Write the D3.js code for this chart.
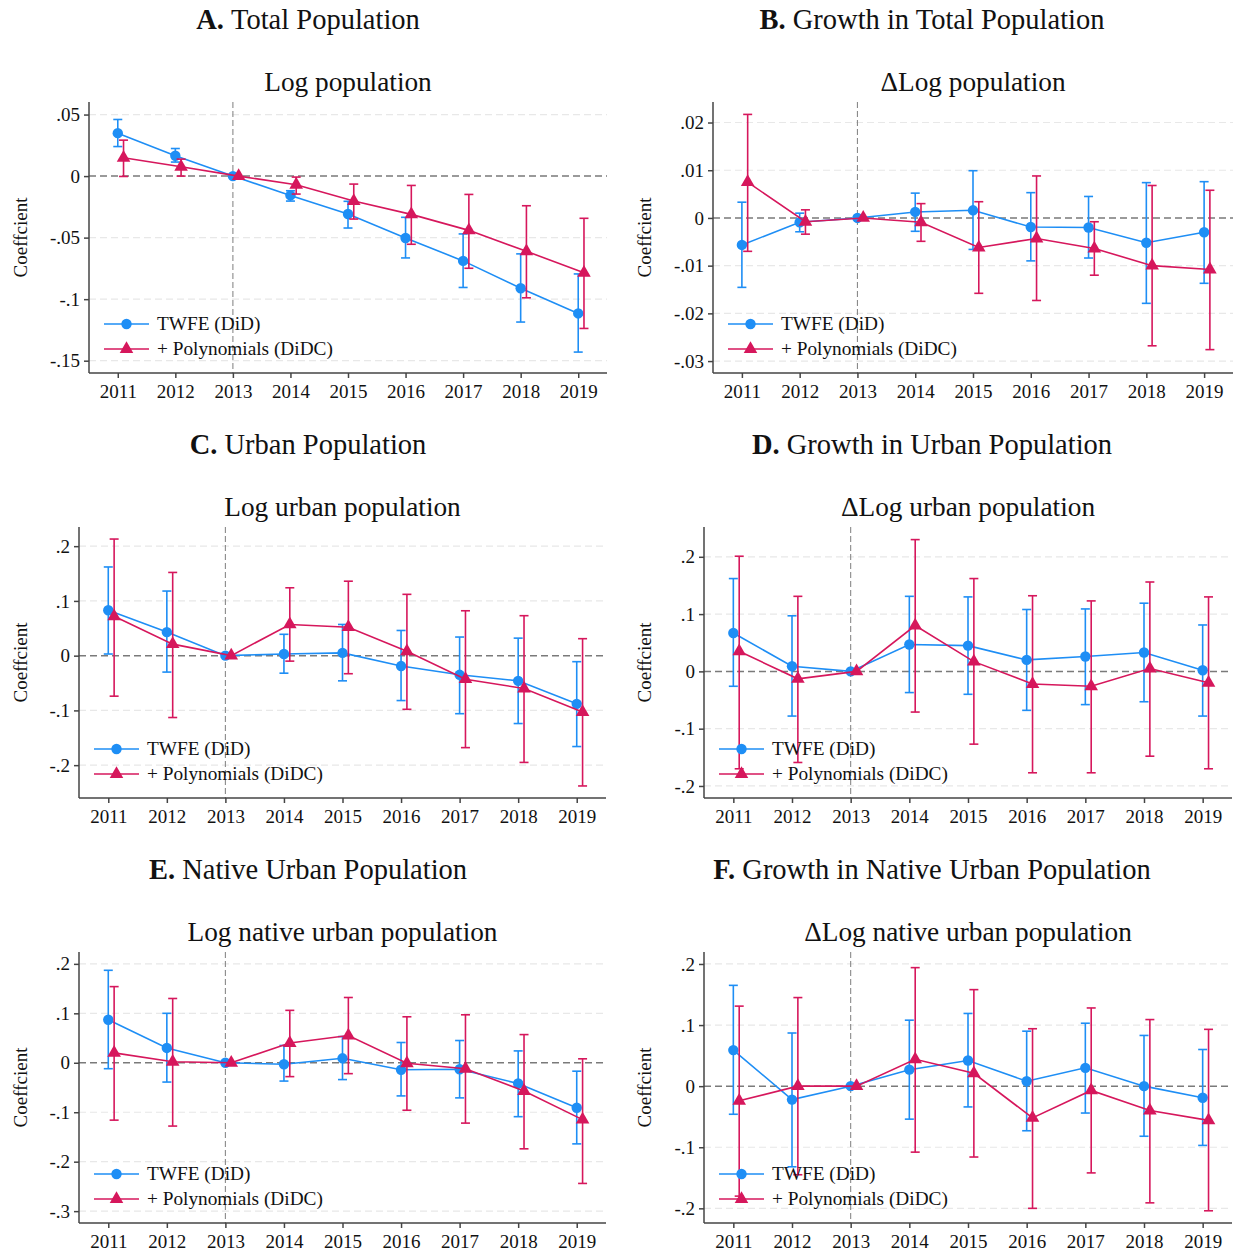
<!DOCTYPE html>
<html><head><meta charset="utf-8">
<script src="https://cdn.jsdelivr.net/npm/d3@7"></script>
<style>body{margin:0;background:#fff}svg{display:block}text{font-family:"Liberation Serif","DejaVu Serif",serif;fill:#111}</style>
</head><body><svg id="c" width="1233" height="1254"></svg>
<script>
const years = [2011,2012,2013,2014,2015,2016,2017,2018,2019];
const seriesNames = ["TWFE (DiD)", "+ Polynomials (DiDC)"];

// Panel A: Log population
const aTwfe   = [0.0349,0.0165,0,-0.0157,-0.0308,-0.0503,-0.0689,-0.0911,-0.1116];
const aTwfeLo = [0.024,0.0114,0,-0.0203,-0.0422,-0.0665,-0.0905,-0.1186,-0.143];
const aTwfeHi = [0.046,0.0224,0,-0.0119,-0.0205,-0.0335,-0.047,-0.0632,-0.0795];
const aPoly   = [0.0149,0.0076,0,-0.007,-0.0203,-0.0311,-0.0441,-0.0611,-0.0786];
const aPolyLo = [-0.0003,0,0,-0.0146,-0.0349,-0.0554,-0.0749,-0.0989,-0.1238];
const aPolyHi = [0.0292,0.0138,0,-0.0008,-0.0065,-0.0076,-0.0149,-0.0241,-0.0343];

// Panel B: ΔLog population
const bTwfe   = [-0.00566,-0.0009,0,0.00126,0.0016,-0.0019,-0.002,-0.0052,-0.003];
const bTwfeLo = [-0.01455,-0.0029,0,-0.0028,-0.0066,-0.009,-0.0084,-0.0179,-0.0137];
const bTwfeHi = [0.0033,0.001,0,0.0052,0.0099,0.0053,0.0045,0.0074,0.0076];
const bPoly   = [0.0075,-0.0008,0,-0.0009,-0.0062,-0.0043,-0.0064,-0.01,-0.0108];
const bPolyLo = [-0.007,-0.0034,0,-0.0049,-0.0158,-0.0173,-0.012,-0.0268,-0.0276];
const bPolyHi = [0.0217,0.0017,0,0.003,0.0034,0.0088,-0.0008,0.0068,0.0058];

// Panel C: Log urban population
const cTwfe   = [0.083,0.043,0,0.003,0.005,-0.019,-0.035,-0.046,-0.088];
const cTwfeLo = [0.003,-0.030,0,-0.032,-0.046,-0.082,-0.106,-0.124,-0.166];
const cTwfeHi = [0.162,0.118,0,0.039,0.057,0.046,0.034,0.032,-0.011];
const cPoly   = [0.072,0.021,0,0.057,0.052,0.008,-0.043,-0.060,-0.103];
const cPolyLo = [-0.074,-0.113,0,-0.010,-0.033,-0.098,-0.168,-0.195,-0.238];
const cPolyHi = [0.213,0.152,0,0.124,0.136,0.112,0.082,0.073,0.031];

// Panel D: ΔLog urban population
const dTwfe   = [0.067,0.009,0,0.047,0.045,0.020,0.026,0.033,0.002];
const dTwfeLo = [-0.026,-0.078,0,-0.037,-0.040,-0.068,-0.058,-0.053,-0.078];
const dTwfeHi = [0.162,0.097,0,0.131,0.130,0.108,0.109,0.119,0.081];
const dPoly   = [0.035,-0.013,0,0.080,0.017,-0.022,-0.026,0.005,-0.020];
const dPolyLo = [-0.17,-0.159,0,-0.071,-0.127,-0.177,-0.177,-0.148,-0.170];
const dPolyHi = [0.201,0.131,0,0.230,0.162,0.132,0.123,0.156,0.130];

// Panel E: Log native urban population
const eTwfe   = [0.087,0.030,0,-0.003,0.009,-0.014,-0.013,-0.042,-0.091];
const eTwfeLo = [-0.012,-0.039,0,-0.037,-0.034,-0.067,-0.071,-0.109,-0.164];
const eTwfeHi = [0.187,0.100,0,0.035,0.053,0.041,0.045,0.024,-0.017];
const ePoly   = [0.020,0.002,0,0.040,0.055,-0.001,-0.012,-0.057,-0.115];
const ePolyLo = [-0.116,-0.128,0,-0.028,-0.022,-0.096,-0.122,-0.174,-0.244];
const ePolyHi = [0.154,0.130,0,0.106,0.132,0.093,0.097,0.057,0.008];

// Panel F: ΔLog native urban population
const fTwfe   = [0.059,-0.022,0,0.027,0.042,0.008,0.030,0.000,-0.019];
const fTwfeLo = [-0.046,-0.132,0,-0.054,-0.034,-0.073,-0.044,-0.082,-0.097];
const fTwfeHi = [0.165,0.087,0,0.108,0.119,0.090,0.103,0.083,0.060];
const fPoly   = [-0.024,0.000,0,0.044,0.021,-0.052,-0.007,-0.040,-0.056];
const fPolyLo = [-0.18,-0.145,0,-0.108,-0.116,-0.200,-0.142,-0.191,-0.204];
const fPolyHi = [0.131,0.145,0,0.194,0.158,0.094,0.128,0.109,0.093];

const titleLetters = ["A.","B.","C.","D.","E.","F."];
const titleTexts = ["Total Population","Growth in Total Population","Urban Population","Growth in Urban Population","Native Urban Population","Growth in Native Urban Population"];
const subtitles = ["Log population","ΔLog population","Log urban population","ΔLog urban population","Log native urban population","ΔLog native urban population"];
const yTickValues = [
  [0.05,0,-0.05,-0.1,-0.15],
  [0.02,0.01,0,-0.01,-0.02,-0.03],
  [0.2,0.1,0,-0.1,-0.2],
  [0.2,0.1,0,-0.1,-0.2],
  [0.2,0.1,0,-0.1,-0.2,-0.3],
  [0.2,0.1,0,-0.1,-0.2]
];
const yTickLabels = [
  [".05","0","-.05","-.1","-.15"],
  [".02",".01","0","-.01","-.02","-.03"],
  [".2",".1","0","-.1","-.2"],
  [".2",".1","0","-.1","-.2"],
  [".2",".1","0","-.1","-.2","-.3"],
  [".2",".1","0","-.1","-.2"]
];
const yDomains = [[-0.16,0.0602],[-0.0325,0.0243],[-0.26,0.235],[-0.221,0.252],[-0.324,0.224],[-0.224,0.2196]];
const yTitle = "Coeffcient";
const eventYear = 2013;

const panelData = [
  [[aTwfe,aTwfeLo,aTwfeHi],[aPoly,aPolyLo,aPolyHi]],
  [[bTwfe,bTwfeLo,bTwfeHi],[bPoly,bPolyLo,bPolyHi]],
  [[cTwfe,cTwfeLo,cTwfeHi],[cPoly,cPolyLo,cPolyHi]],
  [[dTwfe,dTwfeLo,dTwfeHi],[dPoly,dPolyLo,dPolyHi]],
  [[eTwfe,eTwfeLo,eTwfeHi],[ePoly,ePolyLo,ePolyHi]],
  [[fTwfe,fTwfeLo,fTwfeHi],[fPoly,fPolyLo,fPolyHi]]
];

// layout
const layout = [
  {l:89, r:607, t:102, b:373, titleX:308, titleY:29, subY:91, yTitleX:21},
  {l:713,r:1233,t:102, b:373, titleX:932, titleY:29, subY:91, yTitleX:645},
  {l:79, r:606, t:527, b:798, titleX:308, titleY:454, subY:516, yTitleX:21},
  {l:704,r:1232,t:527, b:798, titleX:932, titleY:454, subY:516, yTitleX:645},
  {l:79, r:606, t:952, b:1223,titleX:308, titleY:879, subY:941, yTitleX:21},
  {l:704,r:1232,t:952, b:1223,titleX:932, titleY:879, subY:941, yTitleX:645}
];
const colors = ["#1e8ef5","#d6175c"];
const offsets = [0, 0.1];

const svg = d3.select("#c");

layout.forEach((L,i)=>{
  const g = svg.append("g");
  const x = d3.scaleLinear().domain([2010.5,2019.5]).range([L.l,L.r]);
  const y = d3.scaleLinear().domain(yDomains[i]).range([L.b,L.t]);

  // titles
  const t = g.append("text").attr("x",L.titleX).attr("y",L.titleY).attr("text-anchor","middle").style("font-size","28.5px");
  t.append("tspan").attr("font-weight","bold").text(titleLetters[i]+" ");
  t.append("tspan").text(titleTexts[i]);
  g.append("text").attr("x",(L.l+L.r)/2).attr("y",L.subY).attr("text-anchor","middle").style("font-size","27.3px").text(subtitles[i]);

  // gridlines
  g.append("g").selectAll("line").data(yTickValues[i].filter(v=>v!==0)).join("line")
    .attr("x1",L.l).attr("x2",L.r).attr("y1",d=>y(d)).attr("y2",d=>y(d))
    .attr("stroke","#e8e8e8").attr("stroke-width",1.2).attr("stroke-dasharray","7,4");

  // zero line
  g.append("line").attr("x1",L.l).attr("x2",L.r).attr("y1",y(0)).attr("y2",y(0))
    .attr("stroke","#7a7a7a").attr("stroke-width",1.5).attr("stroke-dasharray","7,4");
  // event line
  g.append("line").attr("x1",x(eventYear)).attr("x2",x(eventYear)).attr("y1",L.t).attr("y2",L.b)
    .attr("stroke","#8a8a8a").attr("stroke-width",1.1).attr("stroke-dasharray","6,3");

  // axes
  const yAxis = d3.axisLeft(y).tickValues(yTickValues[i]).tickFormat((d,k)=>yTickLabels[i][k]).tickSize(5).tickPadding(4);
  const ya = g.append("g").attr("transform",`translate(${L.l},0)`).call(yAxis);
  ya.select(".domain").attr("d",`M0,${L.t}V${L.b}`);
  const xAxis = d3.axisBottom(x).tickValues(years).tickFormat(d3.format("d")).tickSize(5).tickPadding(7);
  const xa = g.append("g").attr("transform",`translate(0,${L.b})`).call(xAxis);
  xa.select(".domain").attr("d",`M${L.l},0H${L.r}`);
  [ya,xa].forEach(a=>{
    a.selectAll(".domain,line").attr("stroke","#444").attr("stroke-width",1.5);
    a.selectAll("text").style("font-size","19px").style("font-family","Liberation Serif").attr("fill","#111");
  });
  g.append("text").attr("transform",`translate(${L.yTitleX+6},${(L.t+L.b)/2}) rotate(-90)`)
    .attr("text-anchor","middle").style("font-size","19px").text(yTitle);

  // series
  panelData[i].forEach((s,si)=>{
    const [est,lo,hi] = s;
    const col = colors[si];
    const sg = g.append("g");
    const pts = years.map((yr,k)=>({x:x(yr+offsets[si]), e:est[k], lo:lo[k], hi:hi[k]}));
    sg.append("path").datum(pts)
      .attr("d",d3.line().x(d=>d.x).y(d=>y(d.e)))
      .attr("fill","none").attr("stroke",col).attr("stroke-width",1.6);
    const eb = sg.append("g").selectAll("g").data(pts.filter(d=>d.lo!==d.hi)).join("g");
    eb.append("line").attr("x1",d=>d.x).attr("x2",d=>d.x).attr("y1",d=>y(d.lo)).attr("y2",d=>y(d.hi))
      .attr("stroke",col).attr("stroke-width",1.6);
    eb.append("line").attr("x1",d=>d.x-4.5).attr("x2",d=>d.x+4.5).attr("y1",d=>y(d.lo)).attr("y2",d=>y(d.lo))
      .attr("stroke",col).attr("stroke-width",1.6);
    eb.append("line").attr("x1",d=>d.x-4.5).attr("x2",d=>d.x+4.5).attr("y1",d=>y(d.hi)).attr("y2",d=>y(d.hi))
      .attr("stroke",col).attr("stroke-width",1.6);
    const sym = si===0 ? d3.symbol().type(d3.symbolCircle).size(85) : d3.symbol().type(d3.symbolTriangle).size(80);
    sg.append("g").selectAll("path").data(pts).join("path")
      .attr("transform",d=>`translate(${d.x},${y(d.e)})`).attr("d",sym).attr("fill",col);
  });

  // legend
  const lg = g.append("g");
  seriesNames.forEach((nm,si)=>{
    const ly = L.b - 49 + si*25;
    lg.append("line").attr("x1",L.l+15).attr("x2",L.l+60).attr("y1",ly).attr("y2",ly)
      .attr("stroke",colors[si]).attr("stroke-width",1.6);
    const sym = si===0 ? d3.symbol().type(d3.symbolCircle).size(85) : d3.symbol().type(d3.symbolTriangle).size(80);
    lg.append("path").attr("transform",`translate(${L.l+37.5},${ly})`).attr("d",sym).attr("fill",colors[si]);
    lg.append("text").attr("x",L.l+68).attr("y",ly+6).style("font-size","19.3px").text(nm);
  });
});
</script></body></html>
